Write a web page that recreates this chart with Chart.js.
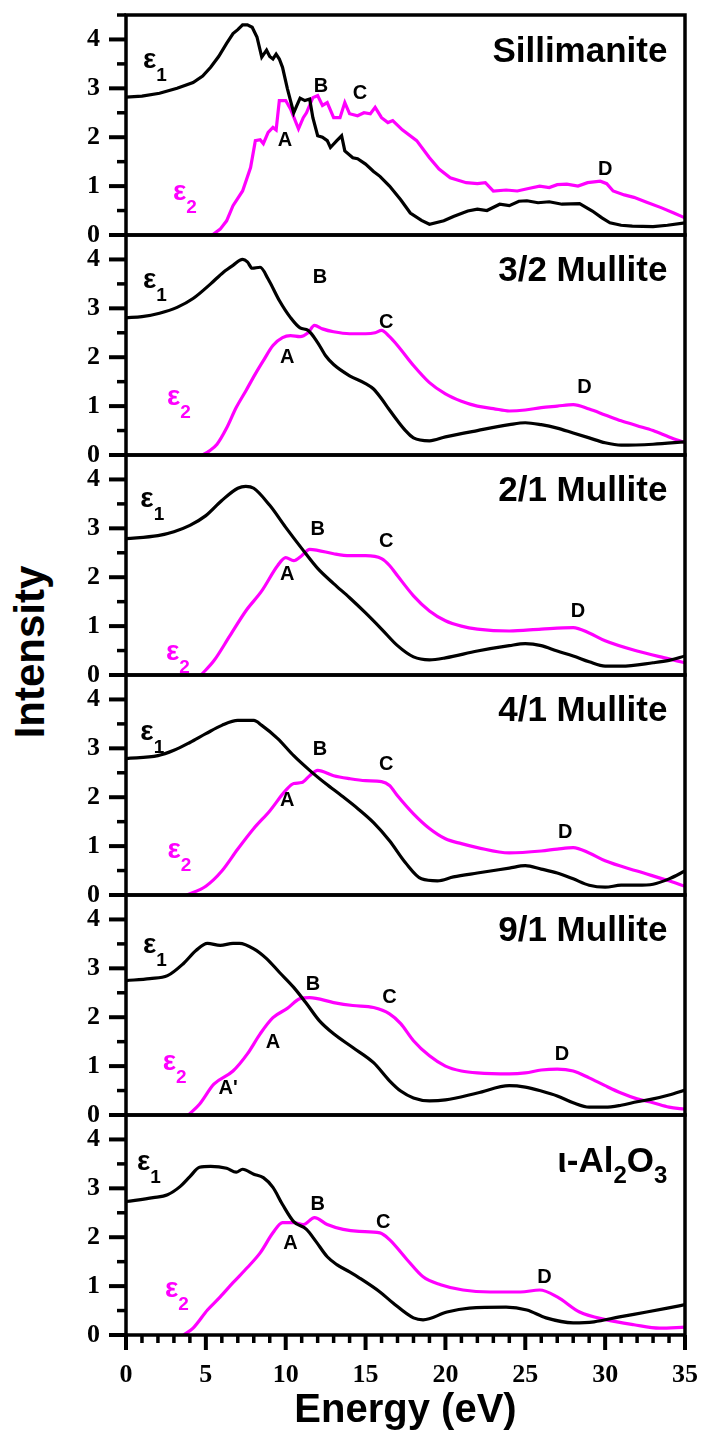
<!DOCTYPE html>
<html>
<head>
<meta charset="utf-8">
<script src="https://cdn.jsdelivr.net/npm/chart.js@4.4.0/dist/chart.umd.min.js"></script>
<style>
  body { margin: 0; background: #fff; }
  #wrap { position: relative; width: 704px; height: 1432px; overflow: hidden; }
  .panel { position: absolute; left: 0; width: 704px; }
  #ylab {
    position: absolute; left: 30px; top: 652px;
    transform: translate(-50%, -50%) rotate(-90deg);
    font: bold 42px "Liberation Sans", Arial, sans-serif;
    line-height: 1; white-space: nowrap; color: #000;
  }
</style>
</head>
<body>
<div id="wrap"><div id="ylab">Intensity</div></div>
<script>
// ---- data: [energy eV, intensity] ----
const silliEps1 = [[0,2.82],[1,2.84],[2.1,2.9],[3.2,3.0],[4.2,3.12],[4.8,3.25],[5.3,3.43],[5.8,3.65],[6.3,3.92],[6.7,4.12],[7.0,4.2],[7.3,4.3],[7.6,4.3],[7.9,4.25],[8.2,4.05],[8.5,3.64],[8.8,3.78],[9.0,3.65],[9.2,3.6],[9.4,3.7],[9.6,3.6],[9.8,3.43],[10.1,3.0],[10.3,2.75],[10.5,2.5],[10.7,2.65],[10.9,2.8],[11.2,2.75],[11.5,2.78],[11.7,2.4],[12.0,2.03],[12.3,2.0],[12.6,1.93],[12.8,1.79],[13.2,1.93],[13.5,2.03],[13.7,1.72],[14.2,1.58],[14.5,1.56],[15.0,1.45],[15.5,1.3],[15.9,1.2],[16.5,1.0],[17.2,0.72],[17.8,0.45],[18.5,0.3],[19.0,0.22],[19.9,0.29],[20.5,0.38],[21.4,0.49],[22.0,0.53],[22.6,0.5],[23.4,0.63],[24.0,0.6],[24.6,0.69],[25.1,0.7],[25.8,0.66],[26.5,0.68],[27.3,0.63],[28.4,0.64],[29.2,0.49],[29.8,0.35],[30.3,0.25],[31.0,0.2],[31.7,0.18],[33.0,0.17],[33.9,0.2],[35,0.25]];
const silliEps2 = [[5.4,0],[5.9,0.12],[6.3,0.29],[6.7,0.6],[7.3,0.9],[7.8,1.38],[8.1,1.93],[8.4,1.95],[8.6,1.87],[8.9,2.1],[9.2,2.2],[9.4,2.15],[9.6,2.75],[10.0,2.75],[10.3,2.58],[10.8,2.17],[11.1,2.4],[11.3,2.5],[11.7,2.81],[12.0,2.85],[12.3,2.65],[12.6,2.71],[13.0,2.4],[13.4,2.4],[13.7,2.71],[14.0,2.48],[14.5,2.44],[14.9,2.5],[15.3,2.48],[15.6,2.61],[16.0,2.4],[16.4,2.3],[16.7,2.34],[17.3,2.15],[18.2,1.93],[19.0,1.58],[19.6,1.35],[20.3,1.17],[21.3,1.07],[22.0,1.05],[22.5,1.07],[23.0,0.9],[23.8,0.92],[24.5,0.9],[25.2,0.95],[25.9,1.0],[26.5,0.97],[27.0,1.03],[27.6,1.04],[28.3,1.0],[28.9,1.07],[29.7,1.1],[30.1,1.05],[30.5,0.9],[31.2,0.82],[31.8,0.77],[32.6,0.67],[33.5,0.56],[34.3,0.45],[35,0.35]];

const m32Eps1 = [[0,2.81],[1,2.83],[2.1,2.9],[3.2,3.02],[4.2,3.2],[5.3,3.5],[6.1,3.74],[6.7,3.88],[7.3,4.0],[7.6,3.95],[7.9,3.82],[8.4,3.84],[8.9,3.6],[9.6,3.16],[10.3,2.81],[10.9,2.6],[11.4,2.55],[12.0,2.3],[12.5,2.03],[13.0,1.85],[14.0,1.62],[15.0,1.46],[15.5,1.35],[16.0,1.15],[16.5,0.92],[17.0,0.7],[17.5,0.5],[18.0,0.35],[19.0,0.29],[20.0,0.37],[22.0,0.5],[24.0,0.62],[25.0,0.66],[26.0,0.62],[27.0,0.55],[28.0,0.45],[29.0,0.35],[30.0,0.25],[31.0,0.2],[33.0,0.22],[35,0.27]];
const m32Eps2 = [[4.8,0],[5.2,0.08],[5.7,0.22],[6.3,0.55],[6.9,0.97],[7.5,1.31],[8.1,1.66],[8.6,1.93],[9.2,2.24],[9.8,2.4],[10.3,2.44],[10.9,2.42],[11.4,2.5],[11.8,2.65],[12.3,2.58],[13.0,2.52],[14.0,2.48],[15.0,2.48],[15.6,2.5],[16.0,2.55],[16.5,2.42],[17.0,2.24],[18.0,1.83],[19.0,1.48],[20.0,1.25],[21.0,1.1],[22.0,1.0],[23.0,0.95],[24.0,0.9],[25.0,0.92],[26.0,0.97],[27.0,1.0],[28.0,1.03],[29.0,0.94],[30.0,0.82],[31.0,0.7],[32.0,0.6],[33.0,0.5],[34.0,0.37],[35,0.25]];

const m21Eps1 = [[0,2.79],[2,2.85],[3,2.93],[4,3.06],[5,3.26],[6,3.57],[7,3.82],[7.5,3.86],[8,3.82],[9,3.47],[10,3.02],[11,2.59],[12,2.18],[13,1.87],[14,1.58],[15,1.27],[16,0.94],[17,0.6],[18,0.37],[19,0.31],[20,0.35],[22,0.49],[24,0.6],[25,0.64],[26,0.6],[27,0.49],[28,0.39],[29,0.27],[30,0.18],[31,0.18],[33,0.25],[34,0.3],[35,0.39]];
const m21Eps2 = [[4.7,0],[5.5,0.29],[6.5,0.8],[7.5,1.31],[8.5,1.72],[9.5,2.24],[10,2.4],[10.5,2.34],[11,2.44],[11.5,2.57],[12,2.55],[13,2.48],[14,2.44],[15,2.44],[16,2.38],[16.5,2.24],[17,2.03],[18,1.62],[19,1.31],[20,1.11],[21,1.0],[22,0.94],[24,0.9],[26,0.94],[28,0.97],[29,0.86],[30,0.7],[32,0.49],[34,0.33],[35,0.25]];

const m41Eps1 = [[0,2.79],[2,2.85],[3,2.96],[4,3.12],[5,3.3],[6,3.47],[7,3.57],[8,3.57],[8.5,3.47],[9.5,3.2],[10.5,2.85],[11.5,2.55],[12.5,2.28],[13.5,2.03],[14.5,1.77],[15.5,1.48],[16.5,1.11],[17.5,0.66],[18.5,0.33],[19.5,0.29],[20.5,0.37],[22,0.45],[24,0.55],[25,0.6],[26,0.53],[27,0.45],[28,0.33],[29,0.2],[30,0.16],[31,0.2],[32,0.2],[33,0.22],[34,0.33],[35,0.49]];
const m41Eps2 = [[3.8,0],[5,0.18],[6,0.49],[7,0.94],[8,1.36],[9,1.72],[10,2.14],[10.5,2.28],[11,2.3],[11.5,2.44],[12,2.55],[13,2.44],[14,2.38],[15,2.34],[16,2.32],[16.5,2.24],[17,2.03],[18,1.66],[19,1.36],[20,1.15],[21,1.05],[22,0.97],[24,0.86],[26,0.9],[27,0.94],[28,0.97],[29,0.86],[30,0.7],[32,0.49],[34,0.29],[35,0.18]];

const m91Eps1 = [[0,2.75],[1.5,2.79],[2.6,2.85],[3.6,3.1],[4.4,3.37],[5.1,3.51],[5.9,3.47],[6.7,3.51],[7.1,3.51],[8.0,3.4],[8.8,3.2],[9.6,2.92],[10.5,2.61],[11.3,2.28],[12.1,1.93],[13.0,1.66],[14.2,1.38],[15.5,1.07],[16.5,0.7],[17.2,0.49],[18,0.35],[19,0.29],[20,0.31],[22,0.45],[24,0.6],[25,0.57],[26,0.49],[27,0.39],[28,0.25],[29,0.16],[30,0.16],[31,0.2],[32,0.27],[33,0.33],[34,0.41],[35,0.51]];
const m91Eps2 = [[3.9,0],[4.6,0.22],[5.5,0.63],[6.7,0.9],[7.6,1.25],[8.4,1.66],[9.2,1.99],[10.1,2.18],[10.9,2.38],[11.5,2.4],[13.0,2.3],[14.2,2.24],[15.5,2.2],[16.5,2.07],[17.2,1.87],[18,1.52],[19,1.21],[20,1.0],[21,0.9],[22,0.86],[24,0.84],[25,0.86],[26,0.92],[27,0.94],[28,0.9],[29,0.76],[30,0.6],[31,0.45],[32,0.33],[33,0.25],[34,0.16],[35,0.12]];

const aluEps1 = [[0,2.73],[1.7,2.81],[2.6,2.87],[3.4,3.04],[4.0,3.24],[4.6,3.43],[5.3,3.45],[6.3,3.41],[6.9,3.33],[7.3,3.39],[8.0,3.29],[8.6,3.22],[9.2,3.02],[9.8,2.67],[10.5,2.32],[11.3,2.16],[11.9,1.91],[12.6,1.6],[13.2,1.44],[14.0,1.29],[14.6,1.17],[15.9,0.88],[16.7,0.66],[18.0,0.35],[18.6,0.31],[20.1,0.47],[21.5,0.55],[23.8,0.57],[25.1,0.51],[26.3,0.35],[28.0,0.25],[29.3,0.27],[30.9,0.37],[32.6,0.47],[33.9,0.55],[35,0.62]];
const aluEps2 = [[3.6,0],[4.2,0.14],[5.1,0.51],[5.9,0.78],[6.7,1.07],[7.6,1.38],[8.4,1.68],[9.2,2.09],[9.8,2.3],[10.5,2.3],[11.1,2.26],[11.8,2.4],[12.6,2.26],[13.6,2.16],[14.6,2.12],[15.9,2.09],[16.5,1.95],[17.6,1.54],[18.6,1.19],[19.7,1.03],[21.1,0.92],[22.8,0.88],[24.7,0.88],[25.9,0.92],[27.0,0.78],[28.4,0.47],[30.1,0.31],[31.8,0.21],[33.4,0.14],[35,0.16]];

// panel names ("_" marks a subscript character)
const panelTitles = ["Sillimanite", "3/2 Mullite", "2/1 Mullite", "4/1 Mullite", "9/1 Mullite", "ι-Al_2O_3"];

// peak letters [label, energy, intensity]
const silliPeaks = [["A",9.96,1.94],["B",12.2,3.03],["C",14.65,2.9],["D",30.0,1.33]];
const m32Peaks = [["A",10.1,2.0],["B",12.15,3.64],["C",16.3,2.72],["D",28.7,1.39]];
const m21Peaks = [["A",10.1,2.05],["B",12.0,2.97],["C",16.3,2.74],["D",28.3,1.29]];
const m41Peaks = [["A",10.1,1.94],["B",12.15,2.97],["C",16.3,2.66],["D",27.5,1.27]];
const m91Peaks = [["A'",6.4,0.55],["A",9.2,1.49],["B",11.7,2.66],["C",16.5,2.41],["D",27.3,1.23]];
const aluPeaks = [["A",10.3,1.88],["B",12.0,2.66],["C",16.1,2.31],["D",26.2,1.17]];

// epsilon label anchors [energy, intensity] for eps1 / eps2
const eps1Spots = [[1.06,3.42],[1.06,3.42],[0.9,3.44],[0.9,3.17],[1.06,3.31],[0.69,3.38]];
const eps2Spots = [[2.94,0.72],[2.57,1.02],[2.5,0.31],[2.6,0.76],[2.3,0.92],[2.44,0.78]];
const titleSpots = [[33.9,3.54],[33.9,3.56],[33.9,3.56],[33.9,3.56],[33.9,3.56],[33.9,3.33]];

const MAGENTA = "#ff00ff";
const SANS = '"Liberation Sans", Arial, sans-serif';
const SERIF = '"Liberation Serif", "Times New Roman", serif';

const panels = [
  { e1: silliEps1, e2: silliEps2, peaks: silliPeaks, smooth: false },
  { e1: m32Eps1, e2: m32Eps2, peaks: m32Peaks, smooth: true },
  { e1: m21Eps1, e2: m21Eps2, peaks: m21Peaks, smooth: true },
  { e1: m41Eps1, e2: m41Eps2, peaks: m41Peaks, smooth: true },
  { e1: m91Eps1, e2: m91Eps2, peaks: m91Peaks, smooth: true },
  { e1: aluEps1, e2: aluEps2, peaks: aluPeaks, smooth: true },
];

function drawEps(ctx, x, y, sub, color) {
  ctx.fillStyle = color;
  ctx.textAlign = "left";
  ctx.textBaseline = "alphabetic";
  ctx.font = "bold 28px " + SANS;
  ctx.fillText("ε", x, y);
  const w = ctx.measureText("ε").width;
  ctx.font = "bold 19px " + SANS;
  ctx.fillText(sub, x + w, y + 13);
}

function drawTitle(ctx, text, right, base) {
  // split into [text, isSub] pieces
  const parts = [];
  for (let i = 0; i < text.length; i++) {
    if (text[i] === "_") { parts.push([text[i + 1], true]); i++; }
    else if (parts.length && !parts[parts.length - 1][1]) parts[parts.length - 1][0] += text[i];
    else parts.push([text[i], false]);
  }
  const big = "bold 35px " + SANS, small = "bold 24px " + SANS;
  let total = 0;
  parts.forEach(p => { ctx.font = p[1] ? small : big; total += ctx.measureText(p[0]).width; });
  let x = right - total;
  ctx.fillStyle = "#000";
  ctx.textAlign = "left";
  ctx.textBaseline = "alphabetic";
  parts.forEach(p => {
    ctx.font = p[1] ? small : big;
    ctx.fillText(p[0], x, base + (p[1] ? 11 : 0));
    x += ctx.measureText(p[0]).width;
  });
}

const decor = {
  id: "decor",
  afterDatasetsDraw(chart, args, o) {
    const { ctx, chartArea: a } = chart;
    const xs = chart.scales.x, ys = chart.scales.y;
    ctx.save();
    ctx.strokeStyle = "#000";

    // y tick marks, major on integers
    ys.ticks.forEach(t => {
      const py = ys.getPixelForValue(t.value);
      const major = Number.isInteger(t.value);
      ctx.lineWidth = major ? 4 : 3.5;
      ctx.beginPath();
      ctx.moveTo(a.left - (major ? 17 : 9), py);
      ctx.lineTo(a.left, py);
      ctx.stroke();
    });

    // x tick marks on the bottom panel
    if (o.last) {
      xs.ticks.forEach(t => {
        const px = xs.getPixelForValue(t.value);
        const major = t.value % 5 === 0;
        ctx.lineWidth = major ? 4 : 3.5;
        ctx.beginPath();
        ctx.moveTo(px, a.bottom);
        ctx.lineTo(px, a.bottom + (major ? 15 : 8));
        ctx.stroke();
      });
    }

    // frame
    ctx.lineWidth = 3.5;
    ctx.strokeRect(a.left, a.top, a.right - a.left, a.bottom - a.top);

    // title
    drawTitle(ctx, o.title, xs.getPixelForValue(o.titleAt[0]), ys.getPixelForValue(o.titleAt[1]));

    // epsilon labels
    drawEps(ctx, xs.getPixelForValue(o.eps1[0]), ys.getPixelForValue(o.eps1[1]), "1", "#000");
    drawEps(ctx, xs.getPixelForValue(o.eps2[0]), ys.getPixelForValue(o.eps2[1]), "2", MAGENTA);

    // peak letters
    ctx.fillStyle = "#000";
    ctx.font = "bold 20px " + SANS;
    ctx.textAlign = "center";
    ctx.textBaseline = "middle";
    o.peaks.forEach(p => ctx.fillText(p[0], xs.getPixelForValue(p[1]), ys.getPixelForValue(p[2])));

    // x axis title
    if (o.last) {
      ctx.font = "bold 40px " + SANS;
      ctx.textAlign = "center";
      ctx.textBaseline = "alphabetic";
      ctx.fillText("Energy (eV)", (a.left + a.right) / 2, a.bottom + 87);
    }
    ctx.restore();
  }
};

const wrap = document.getElementById("wrap");

panels.forEach((p, i) => {
  const last = i === panels.length - 1;
  const h = last ? 332 : 250;
  const div = document.createElement("div");
  div.className = "panel";
  div.style.top = (220 * i) + "px";
  div.style.height = h + "px";
  const canvas = document.createElement("canvas");
  canvas.width = 704;
  canvas.height = h;
  div.appendChild(canvas);
  wrap.appendChild(div);

  const line = (pts, color) => ({
    data: pts.map(q => ({ x: q[0], y: q[1] })),
    borderColor: color,
    borderWidth: 3.2,
    pointRadius: 0,
    fill: false,
    tension: p.smooth ? 0.3 : 0,
    cubicInterpolationMode: p.smooth ? "monotone" : "default",
  });

  new Chart(canvas.getContext("2d"), {
    type: "line",
    data: { datasets: [line(p.e1, "#000"), line(p.e2, MAGENTA)] },
    options: {
      responsive: false,
      animation: false,
      events: [],
      layout: { padding: { left: 0, right: 19, top: 15, bottom: last ? 0 : 15 } },
      plugins: {
        legend: { display: false },
        tooltip: { enabled: false },
        decor: {
          last,
          title: panelTitles[i],
          titleAt: titleSpots[i],
          eps1: eps1Spots[i],
          eps2: eps2Spots[i],
          peaks: p.peaks,
        },
      },
      scales: {
        x: {
          type: "linear",
          min: 0,
          max: 35,
          display: last,
          grid: { display: false, drawTicks: false },
          border: { display: false },
          ticks: {
            stepSize: 1,
            autoSkip: false,
            maxRotation: 0,
            padding: 25,
            color: "#000",
            font: { family: SERIF, size: 26, weight: "bold" },
            callback: v => (v % 5 === 0 ? String(v) : ""),
          },
          afterFit: s => { s.height = last ? 97 : 0; s.paddingLeft = 0; s.paddingRight = 0; },
        },
        y: {
          min: 0,
          max: 4.5,
          grid: { display: false, drawTicks: false },
          border: { display: false },
          ticks: {
            stepSize: 0.5,
            autoSkip: false,
            padding: 26,
            color: "#000",
            font: { family: SERIF, size: 26, weight: "bold" },
            callback: v => (Number.isInteger(v) ? String(v) : ""),
          },
          afterFit: s => { s.width = 126; s.paddingTop = 0; s.paddingBottom = 0; },
        },
      },
    },
    plugins: [decor],
  });
});
</script>
</body>
</html>
